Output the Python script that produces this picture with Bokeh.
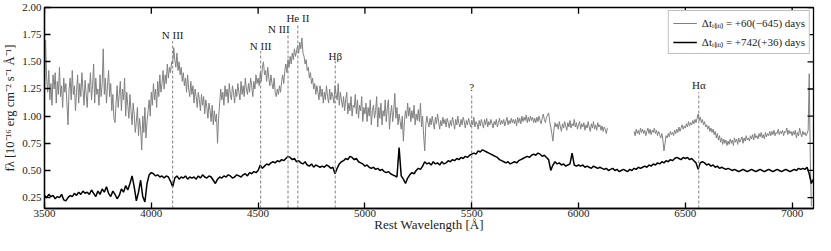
import numpy as np
from bokeh.plotting import figure
from bokeh.models import Range1d, FixedTicker, Legend, LegendItem, PrintfTickFormatter
from bokeh.core.properties import value
from bokeh.embed import file_html
from bokeh.resources import INLINE

nan = float("nan")

# Grey spectrum, Delta t = +60(-645) days, sampled every 5 A from 3500 A
gray_start, gray_step = 3500, 5
gray_flux = [
    1.18, 1.70, 1.35, 1.22, 1.42, 1.15, 1.30, 1.10, 1.38, 1.25,   # 3500
    1.40, 1.12, 1.32, 1.20, 1.45, 1.18, 1.28, 1.08, 1.35, 1.22,   # 3550
    1.30, 1.12, 0.92, 1.25, 1.35, 1.15, 1.42, 1.20, 1.28, 1.05,   # 3600
    1.22, 1.38, 1.12, 1.30, 1.18, 1.40, 1.25, 1.10, 1.33, 1.20,   # 3650
    1.08, 1.30, 1.22, 1.40, 1.15, 1.28, 1.48, 1.12, 1.35, 1.20,   # 3700
    1.25, 1.10, 1.38, 1.18, 1.30, 1.62, 1.20, 1.35, 1.12, 1.28,   # 3750
    1.42, 1.18, 1.30, 1.05, 1.20, 0.98, 0.94, 1.12, 1.28, 1.08,   # 3800
    1.20, 1.32, 1.05, 1.25, 1.15, 1.35, 1.00, 1.22, 1.10, 0.98,   # 3850
    1.20, 1.05, 0.92, 1.12, 1.02, 0.85, 0.95, 1.08, 0.82, 0.98,   # 3900
    0.88, 0.69, 1.00, 0.85, 1.08, 0.80, 0.95, 1.05, 1.15, 1.00,   # 3950
    1.22, 1.10, 1.30, 1.15, 1.25, 1.08, 1.32, 1.18, 1.38, 1.22,   # 4000
    1.30, 1.42, 1.25, 1.38, 1.30, 1.48, 1.35, 1.45, 1.40, 1.50,   # 4050
    1.48, 1.63, 1.52, 1.45, 1.58, 1.42, 1.50, 1.38, 1.45, 1.32,   # 4100
    1.40, 1.28, 1.35, 1.22, 1.38, 1.25, 1.18, 1.32, 1.20, 1.28,   # 4150
    1.12, 1.25, 1.18, 1.08, 1.22, 1.15, 1.05, 1.20, 1.10, 1.18,   # 4200
    1.02, 1.15, 1.08, 0.98, 1.12, 1.05, 0.95, 1.10, 0.92, 1.05,   # 4250
    0.95, 1.02, 0.75, 0.98, 1.12, 1.25, 1.15, 1.22, 1.10, 1.28,   # 4300
    1.18, 1.25, 1.12, 1.30, 1.20, 1.15, 1.28, 1.22, 1.12, 1.25,   # 4350
    1.18, 1.30, 1.22, 1.15, 1.32, 1.20, 1.28, 1.18, 1.35, 1.25,   # 4400
    1.20, 1.30, 1.22, 1.35, 1.28, 1.18, 1.32, 1.25, 1.38, 1.30,   # 4450
    1.35, 1.28, 1.40, 1.32, 1.45, 1.50, 1.38, 1.42, 1.32, 1.45,   # 4500
    1.35, 1.28, 1.38, 1.30, 1.25, 1.35, 1.22, 1.18, 1.25, 1.20,   # 4550
    1.28, 1.22, 1.32, 1.38, 1.30, 1.42, 1.48, 1.40, 1.52, 1.45,   # 4600
    1.55, 1.48, 1.58, 1.52, 1.62, 1.55, 1.60, 1.65, 1.58, 1.68,   # 4650
    1.62, 1.72, 1.58, 1.55, 1.48, 1.52, 1.42, 1.45, 1.35, 1.40,   # 4700
    1.30, 1.35, 1.25, 1.30, 1.20, 1.28, 1.22, 1.15, 1.28, 1.18,   # 4750
    1.25, 1.12, 1.22, 1.15, 1.28, 1.18, 1.12, 1.25, 1.15, 1.22,   # 4800
    1.18, 1.12, 1.28, 1.20, 1.15, 1.30, 1.10, 1.22, 1.15, 1.08,   # 4850
    1.18, 1.05, 1.15, 1.22, 1.02, 1.12, 1.05, 1.18, 1.00, 1.10,   # 4900
    1.08, 1.20, 1.02, 1.15, 0.98, 1.10, 1.05, 1.18, 0.95, 1.08,   # 4950
    1.02, 1.12, 0.95, 1.08, 1.00, 1.15, 0.92, 1.05, 1.10, 0.98,   # 5000
    1.05, 1.18, 0.90, 1.08, 0.98, 1.12, 0.92, 1.05, 1.00, 1.15,   # 5050
    0.95, 1.08, 1.15, 0.88, 1.02, 1.10, 0.95, 1.05, 1.21, 0.98,   # 5100
    1.08, 0.92, 1.02, 0.95, 0.88, 1.00, 0.77, 0.95, 1.05, 0.98,   # 5150
    1.12, 1.00, 1.08, 0.95, 1.05, 0.98, 1.10, 0.92, 1.02, 0.96,   # 5200
    1.06, 0.95, 1.12, 0.90, 1.00, 0.82, 0.68, 0.92, 1.00, 0.94,   # 5250
    0.90, 0.98, 0.92, 1.00, 0.94, 0.88, 0.99, 0.93, 1.02, 0.95,   # 5300
    0.88, 0.96, 0.91, 0.99, 0.93, 0.97, 0.90, 0.98, 0.94, 0.89,   # 5350
    0.96, 0.91, 0.99, 0.94, 0.88, 0.97, 0.92, 1.00, 0.93, 0.90,   # 5400
    0.97, 0.92, 0.99, 0.95, 0.89, 0.96, 0.92, 0.98, 0.94, 0.90,   # 5450
    0.96, 0.92, 0.99, 0.90, 0.95, 0.93, 0.88, 0.96, 0.91, 0.97,   # 5500
    0.93, 0.89, 0.97, 0.92, 0.98, 0.90, 0.95, 0.92, 0.97, 0.93,   # 5550
    0.89, 0.95, 0.92, 0.97, 0.90, 0.94, 0.98, 0.92, 0.96, 0.93,   # 5600
    0.97, 0.91, 0.95, 0.99, 0.92, 0.96, 0.93, 0.98, 0.94, 0.97,   # 5650
    0.93, 0.97, 0.91, 0.99, 0.94, 0.98, 0.93, 1.00, 0.95, 0.99,   # 5700
    0.96, 1.01, 0.94, 0.99, 0.95, 1.00, 0.96, 0.99, 0.94, 0.98,   # 5750
    0.94, 0.99, 0.95, 1.00, 0.96, 0.93, 0.98, 1.02, 0.97, 0.94,   # 5800
    0.99, 1.01, 1.03, 0.95, 0.90, 0.84, 0.77, 0.88, 0.94, 0.90,   # 5850
    0.93, 0.88, 0.95, 0.90, 0.86, 0.93, 0.89, 0.95, 0.91, 0.87,   # 5900
    0.94, 0.90, 0.96, 0.89, 0.93, 0.91, 0.97, 0.90, 0.94, 0.88,   # 5950
    0.92, 0.95, 0.88, 0.93, 0.90, 0.94, 0.87, 0.92, 0.89, 0.95,   # 6000
    0.90, 0.86, 0.93, 0.89, 0.95, 0.88, 0.92, 0.87, 0.94, 0.90,   # 6050
    0.92, 0.87, 0.91, 0.86, 0.90, 0.88, 0.84, 0.89, nan, nan,     # 6100
    nan, nan, nan, nan, nan, nan, nan, nan, nan, nan,             # 6150
    nan, nan, nan, nan, nan, nan, nan, nan, nan, nan,             # 6200
    nan, nan, 0.86, 0.82, 0.88, 0.84, 0.87, 0.83, 0.89, 0.85,     # 6250
    0.88, 0.84, 0.87, 0.82, 0.86, 0.89, 0.84, 0.88, 0.83, 0.87,   # 6300
    0.85, 0.89, 0.84, 0.87, 0.82, 0.86, 0.83, 0.80, 0.84, 0.78,   # 6350
    0.68, 0.75, 0.82, 0.80, 0.84, 0.81, 0.86, 0.83, 0.85, 0.82,   # 6400
    0.87, 0.84, 0.88, 0.85, 0.90, 0.86, 0.89, 0.92, 0.88, 0.91,   # 6450
    0.89, 0.93, 0.90, 0.95, 0.91, 0.94, 0.92, 0.96, 0.93, 0.97,   # 6500
    0.94, 0.98, 1.02, 0.96, 0.99, 0.94, 0.97, 0.92, 0.95, 0.90,   # 6550
    0.92, 0.88, 0.91, 0.86, 0.89, 0.85, 0.88, 0.83, 0.86, 0.80,   # 6600
    0.84, 0.78, 0.82, 0.76, 0.80, 0.74, 0.79, 0.75, 0.78, 0.73,   # 6650
    0.77, 0.74, 0.79, 0.75, 0.78, 0.73, 0.80, 0.76, 0.79, 0.74,   # 6700
    0.80, 0.76, 0.78, 0.81, 0.75, 0.80, 0.77, 0.82, 0.78, 0.80,   # 6750
    0.77, 0.82, 0.79, 0.83, 0.78, 0.84, 0.80, 0.82, 0.79, 0.84,   # 6800
    0.81, 0.85, 0.80, 0.83, 0.79, 0.85, 0.81, 0.84, 0.82, 0.86,   # 6850
    0.82, 0.86, 0.83, 0.87, 0.82, 0.85, 0.84, 0.88, 0.83, 0.86,   # 6900
    0.84, 0.87, 0.82, 0.86, 0.85, 0.89, 0.83, 0.87, 0.84, 0.86,   # 6950
    0.82, 0.86, 0.83, 0.87, 0.80, 0.85, 0.82, 0.89, 0.84, 0.81,   # 7000
    0.86, 0.83, 0.85, 0.82, 0.84, 0.87, 1.39, 0.60, 0.17, nan,    # 7050
    nan,                                                          # 7100
]

# Black spectrum, Delta t = +742(+36) days, sampled every 10 A from 3500 A
black_start, black_step = 3500, 10
black_flux = [
    0.27, 0.25, 0.28, 0.26, 0.27, 0.24, 0.26, 0.25, 0.28, 0.23,   # 3500
    0.22, 0.25, 0.27, 0.26, 0.29, 0.27, 0.30, 0.28, 0.31, 0.29,   # 3600
    0.30, 0.28, 0.32, 0.29, 0.26, 0.31, 0.28, 0.33, 0.30, 0.35,   # 3700
    0.29, 0.26, 0.31, 0.28, 0.24, 0.27, 0.33, 0.30, 0.36, 0.32,   # 3800
    0.38, 0.45, 0.35, 0.22, 0.30, 0.41, 0.26, 0.21, 0.38, 0.46,   # 3900
    0.48, 0.47, 0.45, 0.46, 0.44, 0.45, 0.43, 0.45, 0.44, 0.40,   # 4000
    0.35, 0.43, 0.45, 0.42, 0.44, 0.43, 0.45, 0.42, 0.44, 0.43,   # 4100
    0.44, 0.42, 0.45, 0.43, 0.46, 0.44, 0.43, 0.45, 0.44, 0.41,   # 4200
    0.38, 0.42, 0.44, 0.43, 0.45, 0.44, 0.46, 0.45, 0.43, 0.44,   # 4300
    0.46, 0.45, 0.44, 0.46, 0.47, 0.45, 0.48, 0.47, 0.49, 0.48,   # 4400
    0.50, 0.55, 0.52, 0.54, 0.56, 0.55, 0.57, 0.58, 0.57, 0.59,   # 4500
    0.58, 0.60, 0.59, 0.61, 0.63, 0.62, 0.60, 0.61, 0.58, 0.59,   # 4600
    0.57, 0.56, 0.58, 0.55, 0.54, 0.56, 0.53, 0.55, 0.54, 0.53,   # 4700
    0.54, 0.53, 0.55, 0.54, 0.52, 0.53, 0.47, 0.52, 0.56, 0.58,   # 4800
    0.59, 0.61, 0.60, 0.63, 0.62, 0.60, 0.61, 0.58, 0.57, 0.56,   # 4900
    0.54, 0.55, 0.53, 0.52, 0.53, 0.51, 0.52, 0.50, 0.51, 0.49,   # 5000
    0.48, 0.49, 0.47, 0.46, 0.45, 0.44, 0.71, 0.45, 0.42, 0.38,   # 5100
    0.43, 0.46, 0.48, 0.47, 0.50, 0.52, 0.51, 0.54, 0.58, 0.56,   # 5200
    0.57, 0.55, 0.58, 0.56, 0.57, 0.55, 0.58, 0.56, 0.57, 0.59,   # 5300
    0.58, 0.60, 0.59, 0.61, 0.60, 0.62, 0.61, 0.63, 0.62, 0.64,   # 5400
    0.65, 0.66, 0.65, 0.68, 0.67, 0.69, 0.68, 0.67, 0.66, 0.65,   # 5500
    0.64, 0.63, 0.62, 0.60, 0.59, 0.58, 0.57, 0.58, 0.56, 0.57,   # 5600
    0.58, 0.57, 0.59, 0.60, 0.61, 0.62, 0.63, 0.62, 0.64, 0.65,   # 5700
    0.64, 0.66, 0.65, 0.63, 0.64, 0.62, 0.60, 0.50, 0.55, 0.58,   # 5800
    0.56, 0.57, 0.55, 0.56, 0.54, 0.55, 0.56, 0.66, 0.55, 0.54,   # 5900
    0.55, 0.54, 0.55, 0.53, 0.54, 0.53, 0.52, 0.54, 0.53, 0.52,   # 6000
    0.53, 0.52, 0.51, 0.52, 0.50, 0.51, 0.52, 0.50, 0.51, 0.49,   # 6100
    0.50, 0.51, 0.50, 0.49, 0.51, 0.50, 0.52, 0.51, 0.53, 0.52,   # 6200
    0.53, 0.54, 0.53, 0.55, 0.54, 0.56, 0.55, 0.57, 0.56, 0.58,   # 6300
    0.57, 0.59, 0.58, 0.60, 0.59, 0.61, 0.62, 0.61, 0.60, 0.62,   # 6400
    0.61, 0.62, 0.60, 0.61, 0.59, 0.57, 0.51, 0.57, 0.58, 0.57,   # 6500
    0.55, 0.56, 0.54, 0.55, 0.53, 0.54, 0.52, 0.53, 0.52, 0.51,   # 6600
    0.52, 0.51, 0.50, 0.51, 0.50, 0.49, 0.50, 0.51, 0.50, 0.49,   # 6700
    0.50, 0.51, 0.50, 0.49, 0.50, 0.51, 0.50, 0.49, 0.50, 0.51,   # 6800
    0.50, 0.49, 0.50, 0.51, 0.50, 0.49, 0.50, 0.51, 0.50, 0.49,   # 6900
    0.50, 0.51, 0.50, 0.52, 0.51, 0.52, 0.51, 0.53, 0.47, 0.38, 0.42,  # 7000
]

series_labels = ["Δtᵢ₍ᵢᵢᵢ₎ = +60(−645) days", "Δtᵢ₍ᵢᵢᵢ₎ = +742(+36) days"]

# Line identifications
line_wl = [4100, 4512, 4640, 4686, 4861, 5500, 6563]
line_names = ["N III", "N III", "N III", "He II", "Hβ", "?", "Hα"]
line_top = [1.69, 1.60, 1.76, 1.85, 1.51, 1.21, 1.22]
label_wl = [4100, 4512, 4597, 4686, 4861, 5500, 6563]
label_y = [1.75, 1.65, 1.805, 1.90, 1.553, 1.266, 1.284]

x_ticks = [3500, 4000, 4500, 5000, 5500, 6000, 6500, 7000]
y_ticks = [0.25, 0.50, 0.75, 1.00, 1.25, 1.50, 1.75, 2.00]

FONT = "Liberation Serif"
W, H = 815, 235
BL, BR, BT, BB = 40, 2, 7, 27
X0, X1, Y0, Y1 = 3500, 7100, 0.15, 2.0
TICK = 6  # px

wl_gray = gray_start + gray_step * np.arange(len(gray_flux))
wl_black = black_start + black_step * np.arange(len(black_flux))

p = figure(width=W, height=H, x_range=Range1d(X0, X1), y_range=Range1d(Y0, Y1),
           output_backend="svg", toolbar_location=None,
           min_border_left=BL, min_border_right=BR, min_border_top=BT, min_border_bottom=BB)
p.xgrid.visible = False
p.ygrid.visible = False
p.outline_line_color = "black"
p.outline_line_width = 1.3
p.outline_line_alpha = 1

r_gray = p.line(wl_gray, np.array(gray_flux, dtype=float), line_color="#808080", line_width=1.0)
r_black = p.line(wl_black, np.array(black_flux, dtype=float), line_color="black", line_width=1.5)

p.segment(x0=line_wl, y0=[Y0] * len(line_wl), x1=line_wl, y1=line_top,
          line_color="#808080", line_dash="3 2", line_width=1)
p.text(x=label_wl, y=label_y, text=line_names, text_font=value(FONT),
       text_font_size=value("11px"), text_align="center", text_baseline="middle",
       text_color="#222222")

# inward ticks on the top and right edges of the frame
fw = W - BL - BR
fh = H - BT - BB - 6
dy = TICK * (Y1 - Y0) / fh
dx = TICK * (X1 - X0) / fw
p.segment(x0=x_ticks, y0=[Y1] * len(x_ticks), x1=x_ticks, y1=[Y1 - dy] * len(x_ticks),
          line_color="black", line_width=1.3)
p.segment(x0=[X1] * len(y_ticks), y0=y_ticks, x1=[X1 - dx] * len(y_ticks), y1=y_ticks,
          line_color="black", line_width=1.3)

xa = p.below[0]
ya = p.left[0]
for ax, ticks in [(xa, x_ticks), (ya, y_ticks)]:
    ax.ticker = FixedTicker(ticks=ticks)
    ax.axis_line_width = 1.3
    ax.major_tick_in = TICK
    ax.major_tick_out = 0
    ax.minor_tick_in = 0
    ax.minor_tick_out = 0
    ax.major_tick_line_width = 1.3
    ax.major_label_text_font = FONT
    ax.major_label_text_font_size = "11px"
    ax.major_label_text_color = "#222222"
    ax.axis_label_text_font = FONT
    ax.axis_label_text_font_style = "normal"
    ax.axis_label_text_color = "#222222"

xa.major_label_standoff = 1
xa.axis_label_standoff = -3
ya.major_label_standoff = 3
ya.axis_label_standoff = 2
ya.formatter = PrintfTickFormatter(format="%.2f")
xa.axis_label = "Rest Wavelength [Å]"
ya.axis_label = "fλ [10⁻¹⁶ erg cm⁻² s⁻¹ Å⁻¹]"
xa.axis_label_text_font_size = "13px"
ya.axis_label_text_font_size = "12.5px"

legend = Legend(items=[LegendItem(label=series_labels[0], renderers=[r_gray]),
                       LegendItem(label=series_labels[1], renderers=[r_black])],
                location="top_right")
legend.border_line_color = "#808080"
legend.border_line_width = 1
legend.label_text_font = FONT
legend.label_text_font_size = "11px"
legend.label_text_color = "#222222"
legend.glyph_width = 24
legend.glyph_height = 14
legend.label_height = 14
legend.spacing = 4
legend.padding = 4
legend.margin = 3
legend.label_standoff = 5
legend.background_fill_alpha = 1
p.add_layout(legend)

open("out.html", "w").write(file_html(p, INLINE))
